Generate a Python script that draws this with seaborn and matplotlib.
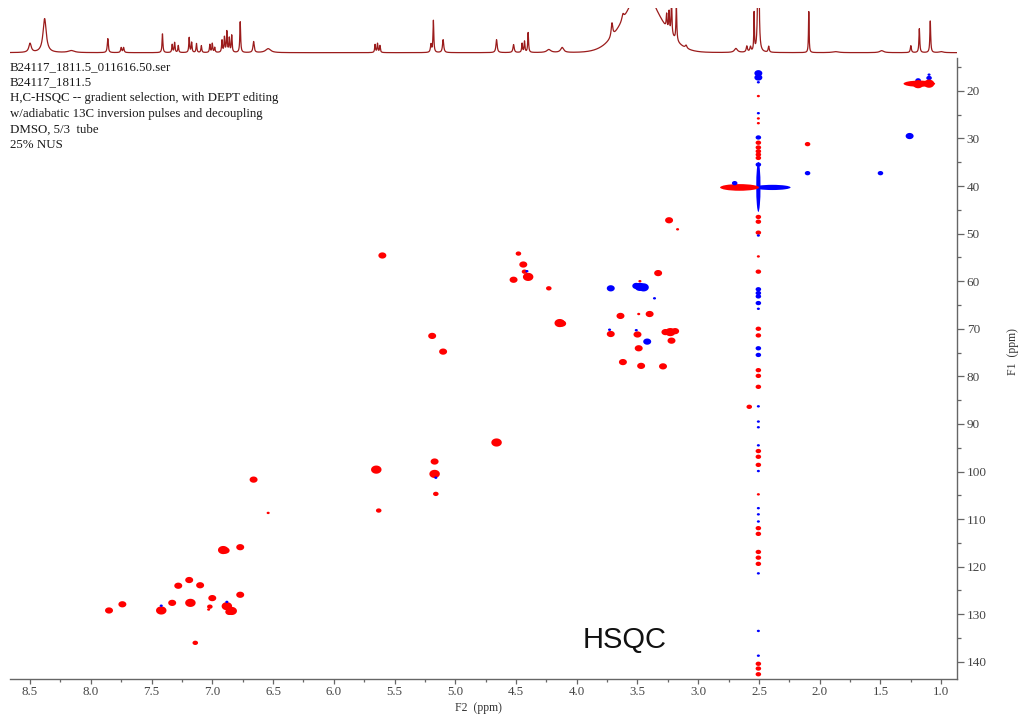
import numpy as np
import pandas as pd
import matplotlib
matplotlib.use("Agg")
import matplotlib.pyplot as plt
import seaborn as sns
from matplotlib.path import Path
from matplotlib.patches import Ellipse
from matplotlib.ticker import MultipleLocator

# ---------------- data ----------------
header_lines = [
    "B24117_1811.5_011616.50.ser",
    "B24117_1811.5",
    "H,C-HSQC -- gradient selection, with DEPT editing",
    "w/adiabatic 13C inversion pulses and decoupling",
    "DMSO, 5/3  tube",
    "25% NUS",
]
x_ticks = [8.5, 8.0, 7.5, 7.0, 6.5, 6.0, 5.5, 5.0, 4.5, 4.0, 3.5, 3.0, 2.5, 2.0, 1.5, 1.0]
y_ticks = [20, 30, 40, 50, 60, 70, 80, 90, 100, 110, 120, 130, 140]

# cross peaks: 1H shift, 13C shift, phase (pos = CH/CH3, neg = CH2), relative intensity (1..4)
pk_h = [7.85, 7.74, 7.42, 7.33, 7.28, 7.19, 7.18, 7.10, 7.00, 7.02, 7.03, 6.91, 6.89, 6.77,
        6.77, 6.88, 6.84, 6.86, 7.14, 6.66, 6.54, 7.42, 6.88,
        5.60, 4.48, 4.44, 4.43, 4.40, 4.41, 4.52, 4.23, 4.14, 4.12, 5.19, 5.10, 4.66, 5.17,
        5.65, 5.17, 5.16, 5.16, 5.63,
        3.24, 3.17, 3.33, 3.72, 3.48, 3.45, 3.51, 3.48, 3.36, 3.64, 3.49, 3.40, 3.72, 3.73,
        3.50, 3.51, 3.23, 3.27, 3.19, 3.22, 3.42, 3.49, 3.62, 3.47, 3.29, 2.58,
        2.10, 2.10, 1.50, 2.70, 1.26, 1.19, 1.10, 1.10, 1.19, 1.10]
pk_c = [129.2, 127.9, 129.2, 127.6, 124.0, 122.8, 127.6, 123.9, 126.6, 128.4, 129.0, 116.5, 116.6, 115.9,
        125.9, 128.3, 129.3, 129.5, 136.0, 101.7, 108.7, 128.2, 127.4,
        54.6, 54.2, 56.5, 58.0, 59.1, 57.9, 59.7, 61.5, 68.8, 68.9, 71.5, 74.8, 93.9, 97.9,
        99.6, 100.5, 101.3, 104.7, 108.2,
        47.2, 49.1, 58.3, 61.5, 61.2, 61.3, 61.0, 60.0, 63.6, 67.3, 66.9, 66.9, 71.1, 70.2,
        71.2, 70.3, 70.7, 70.7, 70.5, 72.5, 72.7, 74.1, 77.0, 77.8, 77.9, 86.4,
        31.2, 37.3, 37.3, 39.4, 29.5, 17.8, 17.3, 16.6, 18.6, 18.5]
pk_phase = (["pos"] * 14 +
            ["pos"] * 7 + ["neg", "neg"] +
            ["pos"] * 5 + ["neg"] + ["pos"] * 8 +
            ["pos", "pos", "neg", "pos", "pos"] +
            ["pos", "pos", "pos", "neg", "neg", "neg", "neg", "pos", "neg", "pos", "pos", "pos", "pos", "neg"] +
            ["pos", "neg", "pos", "pos", "pos", "pos", "neg", "pos", "pos", "pos", "pos", "pos"] +
            ["pos", "neg", "neg", "neg", "neg", "neg", "neg", "neg", "pos", "pos"])
pk_amp = [3, 3, 4, 3, 3, 3, 4, 3, 3, 2, 1, 4, 3, 3,
          3, 4, 4, 3, 2, 3, 1, 1, 1,
          3, 2, 3, 2, 4, 1, 3, 2, 4, 3, 3, 3, 4, 3,
          4, 4, 1, 2, 2,
          3, 1, 3, 3, 4, 4, 3, 1, 1, 3, 1, 3, 3, 1,
          3, 1, 4, 3, 3, 3, 3, 3, 3, 3, 3, 2,
          2, 2, 2, 2, 3, 2, 2, 1, 4, 4]

# t1-noise column of the DMSO solvent line
col_h = 2.505
col_c = [16.3, 17.2, 18.2, 21.1, 24.7, 25.8, 26.8, 29.8, 30.9, 31.9, 32.7, 33.4, 34.1, 35.5,
         46.5, 47.5, 49.8, 50.4, 54.8, 58.0, 61.7, 62.5, 63.2, 64.6, 65.8, 70.0, 71.4, 74.1,
         75.5, 78.7, 79.9, 82.2, 86.3, 89.5, 90.7, 94.5, 95.7, 96.9, 98.6, 99.9, 104.8, 107.7,
         109.0, 110.5, 111.9, 113.1, 116.9, 118.1, 119.4, 121.4, 133.5, 138.7, 140.4, 141.4, 142.6]
col_phase = ["neg", "neg", "neg", "pos", "neg", "pos", "pos", "neg", "pos", "pos", "pos", "pos", "pos", "neg",
             "pos", "pos", "pos", "neg", "pos", "pos", "neg", "neg", "neg", "neg", "neg", "pos", "pos", "neg",
             "neg", "pos", "pos", "pos", "neg", "neg", "neg", "neg", "pos", "pos", "pos", "neg", "pos", "neg",
             "neg", "neg", "pos", "pos", "pos", "pos", "pos", "neg", "neg", "neg", "pos", "pos", "pos"]
col_amp = [3, 3, 1, 1, 1, 1, 1, 2, 2, 2, 2, 2, 2, 2,
           2, 2, 2, 1, 1, 2, 2, 2, 2, 2, 1, 2, 2, 2,
           2, 2, 2, 2, 1, 1, 1, 1, 2, 2, 2, 1, 1, 1,
           1, 1, 2, 2, 2, 2, 2, 1, 1, 1, 2, 2, 2]

# elongated (ridge) signals: centre 1H, centre 13C, extent 1H, extent 13C, phase
st_h = [2.39, 2.505, 2.66, 1.18]
st_c = [40.3, 40.2, 40.3, 18.5]
st_dh = [0.30, 0.035, 0.32, 0.26]
st_dc = [1.1, 10.5, 1.4, 1.3]
st_phase = ["neg", "neg", "pos", "pos"]

# 1D 1H projection: shift, height, half-width
od_shift = [8.50, 8.38, 8.16, 7.86, 7.75, 7.73, 7.41, 7.33, 7.31, 7.28, 7.19, 7.17, 7.13, 7.09,
            7.02, 7.00, 6.98, 6.92, 6.90, 6.88, 6.86, 6.84, 6.77, 6.66, 6.54, 5.66, 5.64, 5.62,
            5.20, 5.18, 5.10, 4.66, 4.52, 4.45, 4.43, 4.40, 4.23, 4.12, 3.71, 3.62, 3.46, 3.26,
            3.24, 3.22, 3.18, 3.10, 2.69, 2.60, 2.57, 2.54, 2.505, 2.42, 2.09, 1.87, 1.49, 1.25,
            1.18, 1.09, 1.00]
od_height = [9, 34, 2, 14, 5, 5, 19, 8, 10, 7, 15, 10, 9, 7,
             8, 9, 5, 12, 15, 21, 14, 17, 31, 11, 4, 8, 9, 7,
             8, 32, 13, 13, 8, 9, 11, 20, 3, 5, 14, 6, 300, 14,
             20, 34, 36, 3, 4, 6, 5, 38, 400, 6, 42, 1, 2, 7,
             24, 32, 1]
od_width = [0.012, 0.016, 0.03, 0.005, 0.005, 0.005, 0.004, 0.004, 0.004, 0.004, 0.004, 0.004, 0.004, 0.004,
            0.004, 0.004, 0.004, 0.004, 0.004, 0.004, 0.004, 0.004, 0.004, 0.006, 0.025, 0.004, 0.004, 0.004,
            0.005, 0.004, 0.006, 0.006, 0.006, 0.004, 0.004, 0.004, 0.02, 0.015, 0.008, 0.01, 0.015, 0.004,
            0.004, 0.004, 0.004, 0.008, 0.015, 0.006, 0.006, 0.003, 0.003, 0.005, 0.003, 0.03, 0.02, 0.005,
            0.004, 0.004, 0.02]
water_shift, water_height, water_sigma = 3.46, 50, 0.16

# ---------------- figure ----------------
sns.set_theme(style="white")
plt.rcParams["font.family"] = ["Liberation Serif", "DejaVu Serif"]

W, H = 1029, 719
fig = plt.figure(figsize=(W / 100, H / 100), dpi=100)
fig.patch.set_facecolor("white")

xl, xr, yt, yb = 10, 957, 58, 679
ax = fig.add_axes([xl / W, 1 - yb / H, (xr - xl) / W, (yb - yt) / H])
ax_top = fig.add_axes([xl / W, 1 - 56 / H, (xr - xl) / W, 48 / H])

XLIM = (8.665, 0.87)
YLIM = (143.6, 13.1)

pal = {"pos": "#ff0000", "neg": "#0000ff"}

# ridges
for h, c, dh, dc, ph in zip(st_h, st_c, st_dh, st_dc, st_phase):
    ax.add_patch(Ellipse((h, c), dh, dc, facecolor=pal[ph], edgecolor="none", zorder=2))

peaks = pd.DataFrame({"H": pk_h, "C": pk_c, "phase": pk_phase, "amp": pk_amp})
column = pd.DataFrame({"H": [col_h] * len(col_c), "C": col_c, "phase": col_phase, "amp": col_amp})
df = pd.concat([column, peaks], ignore_index=True)

t = np.linspace(0, 2 * np.pi, 48)
ell = Path(np.column_stack([np.cos(t), 0.78 * np.sin(t)]), closed=True)
sns.scatterplot(data=df, x="H", y="C", hue="phase", palette=pal, size="amp",
                sizes={1: 5, 2: 16, 3: 33, 4: 57}, marker=ell, linewidth=0,
                legend=False, ax=ax, zorder=3)

ax.set_xlim(*XLIM)
ax.set_ylim(*YLIM)
ax.set_xlabel("")
ax.set_ylabel("")
for s in ["top", "left"]:
    ax.spines[s].set_visible(False)
for s in ["bottom", "right"]:
    ax.spines[s].set_color("#666666")
    ax.spines[s].set_linewidth(1.0)
ax.yaxis.tick_right()
ax.set_xticks(x_ticks)
ax.set_xticklabels([f"{v:.1f}" for v in x_ticks])
ax.set_yticks(y_ticks)
ax.set_yticklabels([str(v) for v in y_ticks])
ax.xaxis.set_minor_locator(MultipleLocator(0.25))
ax.yaxis.set_minor_locator(MultipleLocator(5))
ax.tick_params(axis="x", which="both", bottom=True, top=False, direction="out",
               color="#666666", labelcolor="#444444", labelsize=9.3, pad=1.5)
ax.tick_params(axis="y", which="both", right=True, left=False, direction="out",
               color="#666666", labelcolor="#444444", labelsize=9.5, pad=2)
ax.tick_params(axis="x", which="major", length=3.5, width=0.9)
ax.tick_params(axis="x", which="minor", length=2.5, width=0.9)
ax.tick_params(axis="y", which="major", length=5, width=0.9)
ax.tick_params(axis="y", which="minor", length=3, width=0.9)
ax.grid(False)

# 1D projection
xs = np.linspace(8.7, 0.85, 8000)
spec = water_height * np.exp(-0.5 * ((xs - water_shift) / water_sigma) ** 2)
for s0, h0, w0 in zip(od_shift, od_height, od_width):
    spec = spec + h0 * w0 ** 2 / ((xs - s0) ** 2 + w0 ** 2)
sns.lineplot(x=xs, y=spec, ax=ax_top, color="#9b1c1c", linewidth=0.9, estimator=None, sort=False)
ax_top.set_xlim(*XLIM)
ax_top.set_ylim(-3.3, 44.7)
ax_top.axis("off")

# texts
for i, line in enumerate(header_lines):
    fig.text(9.5 / W, 1 - (66.7 + 15.7 * i) / H, line, fontsize=9.3, color="#1a1a1a",
             ha="left", va="center")
fig.text(478 / W, 1 - 708 / H, "F2  (ppm)", fontsize=8.5, color="#333333", ha="center", va="center")
fig.text(1013 / W, 1 - 352 / H, "F1  (ppm)", fontsize=8.5, color="#333333", ha="center",
         va="center", rotation=90)
fig.text(625 / W, 1 - 640 / H, "HSQC", fontsize=21, color="#111111", ha="center", va="center",
         family=["Liberation Sans", "DejaVu Sans"])

fig.savefig("out.png", dpi=100, facecolor="white")
